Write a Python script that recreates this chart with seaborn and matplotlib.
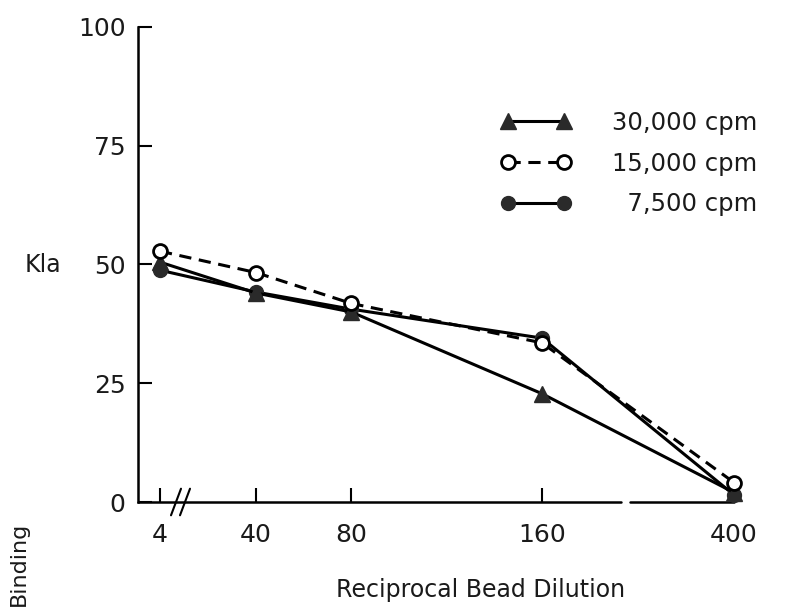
import numpy as np
import pandas as pd
import matplotlib
matplotlib.use("Agg")
import matplotlib.pyplot as plt
import seaborn as sns

# ---- data ----
dilution = [4, 40, 80, 160, 400]
cpm_30000 = [50.5, 44.0, 40.0, 22.8, 2.0]
cpm_15000 = [52.8, 48.3, 41.8, 33.5, 4.1]
cpm_7500 = [48.8, 44.2, 40.6, 34.5, 1.5]
series_labels = ["30,000 cpm", "15,000 cpm", "\u20077,500 cpm"]
x_tick_labels = ["4", "40", "80", "160", "400"]
y_ticks = [0, 25, 50, 75, 100]

sns.set_theme(style="white")
plt.rcParams["font.family"] = ["DejaVu Sans"]

W, H = 790, 607
fig = plt.figure(figsize=(W / 100, H / 100), dpi=100)
ax_left, ax_right, ax_top, ax_bot = 138, 734, 27, 502
ax = fig.add_axes([ax_left / W, 1 - ax_bot / H, (ax_right - ax_left) / W, (ax_bot - ax_top) / H])

# broken x axis: piecewise-linear scale
knots_x = np.array([-100.0, 0.0, 4.0, 40.0, 160.0, 400.0, 1000.0])
knots_u = np.array([-412.0, 138.0, 160.0, 256.0, 542.0, 734.0, 1214.0])


def fwd(x):
    return np.interp(x, knots_x, knots_u)


def inv(u):
    return np.interp(u, knots_u, knots_x)


ax.set_xscale("function", functions=(fwd, inv))

df = pd.DataFrame({"x": dilution, "a": cpm_30000, "b": cpm_15000, "c": cpm_7500})

lw = 2.2
sns.lineplot(data=df, x="x", y="c", ax=ax, color="black", lw=lw, marker="o",
             markersize=10, markerfacecolor="#2a2a2a", markeredgecolor="#2a2a2a",
             markeredgewidth=1, label=series_labels[2], clip_on=False, zorder=3)
sns.lineplot(data=df, x="x", y="a", ax=ax, color="black", lw=lw, marker="^",
             markersize=12, markerfacecolor="#2a2a2a", markeredgecolor="#2a2a2a",
             markeredgewidth=1, label=series_labels[0], clip_on=False, zorder=4)
sns.lineplot(data=df, x="x", y="b", ax=ax, color="black", lw=lw, marker="o",
             markersize=10, markerfacecolor="white", markeredgecolor="black",
             markeredgewidth=2, label=series_labels[1], clip_on=False, zorder=5,
             linestyle=(0, (4, 2.5)))

ax.set_xlim(0, 400)
ax.set_ylim(0, 100)
ax.set_xticks(dilution)
ax.set_xticklabels(x_tick_labels)
ax.set_yticks(y_ticks)
ax.set_yticklabels([str(v) for v in y_ticks])
ax.xaxis.set_minor_locator(matplotlib.ticker.NullLocator())

ax.tick_params(axis="x", direction="in", length=10, width=1.5, color="black",
               labelsize=18, pad=15, bottom=True)
ax.tick_params(axis="y", direction="in", length=10, width=1.5, color="black",
               labelsize=18, pad=9, left=True)
for t in ax.get_xticklabels() + ax.get_yticklabels():
    t.set_color("#1a1a1a")

for s in ["top", "right", "bottom"]:
    ax.spines[s].set_visible(False)
ax.spines["left"].set_color("black")
ax.spines["left"].set_linewidth(1.8)
ax.set_facecolor("white")

# bottom axis drawn with a gap and a "//" break mark
gap_a, gap_b = inv(621.0), inv(630.0)
trans = ax.get_xaxis_transform()
ax.plot([0, gap_a], [0, 0], color="black", lw=1.8, transform=trans, clip_on=False, zorder=2)
ax.plot([gap_b, 400], [0, 0], color="black", lw=1.8, transform=trans, clip_on=False, zorder=2)
for uc in (176.0, 185.0):
    ax.plot([inv(uc - 5), inv(uc + 5)], [-2.8, 2.8], color="black", lw=1.5,
            clip_on=False, zorder=2)

ax.set_ylabel("")
ax.set_xlabel("Reciprocal Bead Dilution", fontsize=17, color="#1a1a1a")
ax.xaxis.set_label_coords((481 - ax_left) / (ax_right - ax_left), (ax_bot - 590) / (ax_bot - ax_top))
ax.xaxis.label.set_va("center")

fig.text(25 / W, 1 - 265 / H, "Kla", fontsize=17, ha="left", va="center", color="#1a1a1a")
fig.text(19 / W, 1 - 564 / H, "Binding", fontsize=16, ha="center", va="center",
         rotation=90, color="#1a1a1a")

handles, labels = ax.get_legend_handles_labels()
order = [labels.index(l) for l in series_labels]
leg = ax.legend([handles[i] for i in order], [labels[i] for i in order],
                loc="upper left", bbox_to_anchor=(501 / W, 1 - 111 / H),
                bbox_transform=fig.transFigure, frameon=False, fontsize=17.5,
                numpoints=2, handlelength=2.9, handletextpad=1.65,
                labelspacing=0.68, borderpad=0, borderaxespad=0)
for t in leg.get_texts():
    t.set_color("#1a1a1a")

fig.savefig("out.png", dpi=100, facecolor="white")
